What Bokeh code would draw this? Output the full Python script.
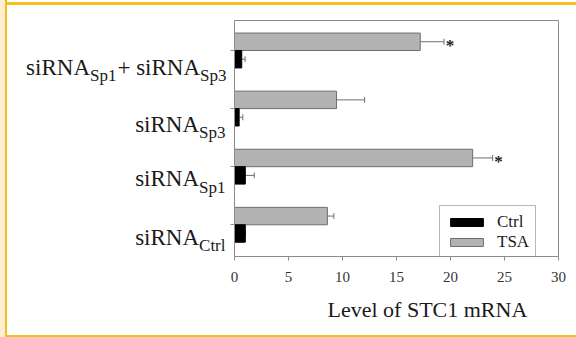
from bokeh.plotting import figure
from bokeh.layouts import row
from bokeh.models import (Range1d, FixedTicker, Legend, LegendItem, Title,
                          Whisker, TeeHead, ColumnDataSource)
from bokeh.embed import file_html
from bokeh.resources import INLINE
from bokeh.core.properties import value

# ---------------- data (bottom group first) ----------------
group_main = [["siRNA"], ["siRNA"], ["siRNA"], ["siRNA", "+ siRNA"]]
group_sub = [["Ctrl"], ["Sp1"], ["Sp3"], ["Sp1", "Sp3"]]
ctrl_vals = [1.0, 1.0, 0.43, 0.67]
ctrl_err = [0.0, 0.83, 0.34, 0.31]
tsa_vals = [8.6, 22.05, 9.45, 17.2]
tsa_err = [0.6, 1.85, 2.6, 2.2]
tsa_sig = [False, True, False, True]
x_ticks = [0, 5, 10, 15, 20, 25, 30]
x_title = "Level of STC1 mRNA"
series_names = ["Ctrl", "TSA"]

# ---------------- layout ----------------
TOTAL_W, TOTAL_H = 576, 337
LW = 228                                   # label strip width
PW = TOTAL_W - LW
FL, FR, FT, FB = 6, 18, 20, 81             # main frame borders
X0, X1 = 0, 30
Y0, Y1 = -0.546, 3.516
px_x = (PW - FL - FR) / (X1 - X0)
px_y = (TOTAL_H - FT - FB) / (Y1 - Y0)
BAR_H = 0.3
SERIF = "Liberation Serif"
MAIN_FS, SUB_FS = 23, 17
TXT = "#1a1a1a"
AX = "#8c8c8c"

TNR = {"s": 389, "i": 278, "R": 667, "N": 722, "A": 722, "S": 556, "p": 500,
       "1": 500, "3": 500, "C": 667, "t": 278, "r": 333, "l": 278, "+": 564,
       " ": 250}


def text_w(s, fs):
    return sum(TNR.get(c, 500) for c in s) / 1000.0 * fs


# ---------------- main plot ----------------
p = figure(width=PW, height=TOTAL_H, output_backend="svg",
           toolbar_location=None,
           x_range=Range1d(X0, X1), y_range=Range1d(Y0, Y1),
           min_border_left=FL, min_border_right=FR, min_border_top=FT,
           min_border_bottom=FB)
p.background_fill_color = "white"
p.border_fill_color = None
p.outline_line_color = AX
p.xgrid.visible = False
p.ygrid.visible = False

n = len(ctrl_vals)
idx = list(range(n))
src_t = ColumnDataSource(dict(y=[i + BAR_H / 2 for i in idx], v=tsa_vals,
                              up=[a + b for a, b in zip(tsa_vals, tsa_err)]))
src_c = ColumnDataSource(dict(y=[i - BAR_H / 2 for i in idx], v=ctrl_vals,
                              up=[a + b for a, b in zip(ctrl_vals, ctrl_err)]))

rg = p.hbar(y="y", left=0, right="v", height=BAR_H, source=src_t,
            fill_color="#b3b3b3", line_color="#6f6f6f", line_width=1)
rb = p.hbar(y="y", left=0, right="v", height=BAR_H, source=src_c,
            fill_color="black", line_color="black", line_width=1)

for src in (src_t, src_c):
    w = Whisker(source=src, base="y", lower="v", upper="up", dimension="width",
                line_color="#6f6f6f", line_width=1, lower_head=None,
                upper_head=TeeHead(size=6, line_color="#6f6f6f", line_width=1))
    p.add_layout(w)

star_x = [tsa_vals[i] + tsa_err[i] + 0.15 for i in idx if tsa_sig[i]]
star_y = [i + BAR_H / 2 - 4 / px_y for i in idx if tsa_sig[i]]
p.text(x=star_x, y=star_y, text=["*"] * len(star_x), text_font=value(SERIF),
       text_font_size="17px", text_font_style="bold", text_color="#222222",
       text_align="left", text_baseline="alphabetic")

p.xaxis.ticker = FixedTicker(ticks=x_ticks)
# group positions as tick marks only (labels are drawn beside the axis)
p.yaxis.ticker = FixedTicker(ticks=[], minor_ticks=idx)
for ax in (p.xaxis, p.yaxis):
    ax.axis_line_color = AX
    ax.major_tick_line_color = AX
    ax.major_tick_out = 4
    ax.major_tick_in = 0
p.xaxis.minor_tick_line_color = None
p.yaxis.minor_tick_line_color = AX
p.yaxis.minor_tick_out = 4
p.yaxis.minor_tick_in = 0
p.yaxis.major_label_standoff = 0
p.xaxis.major_label_text_font = SERIF
p.xaxis.major_label_text_font_size = "15px"
p.xaxis.major_label_text_color = "#333333"
p.xaxis.major_label_standoff = 11

p.add_layout(Title(text=x_title, align="left", offset=93, standoff=21,
                   text_font=SERIF, text_font_size="22px",
                   text_font_style="normal", text_color=TXT), "below")

legend = Legend(items=[LegendItem(label=series_names[0], renderers=[rb]),
                       LegendItem(label=series_names[1], renderers=[rg])],
                location=(205, -3), margin=0, padding=6, spacing=0,
                glyph_width=41, glyph_height=10, label_height=10,
                label_standoff=10, label_text_font=SERIF,
                label_text_font_size="17px", label_text_color=TXT,
                border_line_color="#6f6f6f", border_line_width=1,
                background_fill_color="white", background_fill_alpha=1.0)
p.add_layout(legend)

# ---------------- label strip (shares the y scale) ----------------
lab = figure(width=LW, height=TOTAL_H, output_backend="svg",
             toolbar_location=None, x_range=Range1d(0, LW),
             y_range=p.y_range,
             min_border_left=0, min_border_right=0, min_border_top=FT,
             min_border_bottom=FB, x_axis_location=None, y_axis_location=None)
lab.outline_line_color = None
lab.background_fill_color = None
lab.border_fill_color = None
lab.xgrid.visible = False
lab.ygrid.visible = False

right_end = 225
main_off = [12.4, 12.0, 15.6, 16.7]
mx, my, mt, sx, sy, st = [], [], [], [], [], []
for i in idx:
    pieces = []
    for m, s in zip(group_main[i], group_sub[i]):
        pieces.append((m, MAIN_FS, False))
        pieces.append((s, SUB_FS, True))
    total = sum(text_w(t, fs) for t, fs, _ in pieces)
    xpx = right_end - total
    for t, fs, is_sub in pieces:
        if is_sub:
            sx.append(xpx)
            sy.append(i - (main_off[i] + 8.5) / px_y)
            st.append(t)
        else:
            if t.startswith("+"):
                xpx += 1
            mx.append(xpx)
            my.append(i - main_off[i] / px_y)
            mt.append(t)
        xpx += text_w(t, fs)

lab.text(x=mx, y=my, text=mt, text_font=value(SERIF),
         text_font_size=f"{MAIN_FS}px", text_color=TXT, text_align="left",
         text_baseline="alphabetic")
lab.text(x=sx, y=sy, text=st, text_font=value(SERIF),
         text_font_size=f"{SUB_FS}px", text_color=TXT, text_align="left",
         text_baseline="alphabetic")

lay = row(lab, p)
lay.styles = {
    "background": "linear-gradient(to right, #FCEDD3 0px, #FCEDD3 5px, "
                  "#F2BF1F 5px, #F2BF1F 7px, transparent 7px), "
                  "linear-gradient(to bottom, #ffffff 0px, #ffffff 2px, "
                  "#F2BF1F 2px, #F2BF1F 5px, #ffffff 5px, #ffffff 335px, "
                  "#F2BF1F 335px)"
}

open("out.html", "w").write(file_html(lay, INLINE))
